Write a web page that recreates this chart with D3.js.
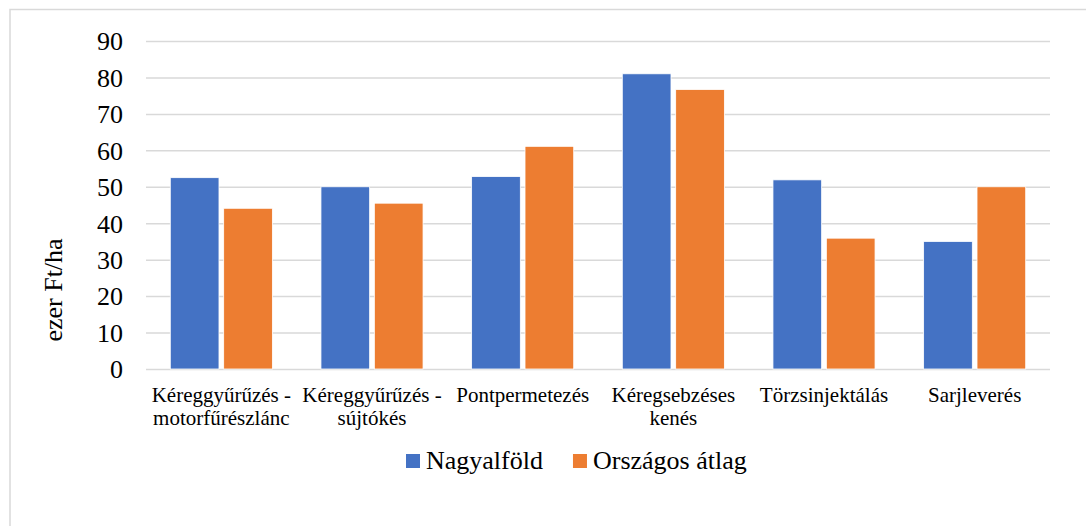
<!DOCTYPE html>
<html>
<head>
<meta charset="utf-8">
<script src="https://cdn.jsdelivr.net/npm/d3@7"></script>
<style>
  body { margin: 0; background: #fff; }
  svg text { font-family: "Liberation Serif", "Times New Roman", serif !important; fill: #000 !important; }
</style>
</head>
<body>
<div id="chart"></div>
<script>
// data
var categories = ["Kéreggyűrűzés - motorfűrészlánc", "Kéreggyűrűzés - sújtókés", "Pontpermetezés",
                  "Kéregsebzéses kenés", "Törzsinjektálás", "Sarjleverés"];
var seriesNames = ["Nagyalföld", "Országos átlag"];
var nagyalfold = [52.5, 50.0, 52.8, 81.0, 51.9, 35.0];
var orszagos = [44.1, 45.5, 61.1, 76.7, 35.9, 50.0];
var yTicks = [0, 10, 20, 30, 40, 50, 60, 70, 80, 90];
var colors = ["#4472C4", "#ED7D31"];

var W = 1086, H = 526;
var plotLeft = 146, plotRight = 1050, plotTop = 41, plotBottom = 369;

var svg = d3.select("#chart").append("svg")
  .attr("width", W)
  .attr("height", H);

// outer chart border
svg.append("rect")
  .attr("x", 10).attr("y", 9.5)
  .attr("width", 1100).attr("height", 600)
  .attr("fill", "none")
  .attr("stroke", "#d9d9d9")
  .attr("stroke-width", 1.5);

var y = d3.scaleLinear().domain([0, 90]).range([plotBottom, plotTop]);
var x0 = d3.scaleBand().domain(categories).range([plotLeft, plotRight]).padding(0);
var x1 = d3.scaleBand().domain(seriesNames).range([0, x0.bandwidth()])
  .paddingInner(0.088).paddingOuter(0.455);

// y axis + gridlines
var yAxis = svg.append("g")
  .attr("transform", "translate(" + plotLeft + ",0)")
  .call(d3.axisLeft(y).tickValues(yTicks).tickSizeInner(-(plotRight - plotLeft)).tickSizeOuter(0).tickPadding(23));
yAxis.select(".domain").remove();
yAxis.selectAll(".tick line").attr("stroke", "#d9d9d9").attr("stroke-width", 1.5);
yAxis.selectAll(".tick text").style("font-size", "26px").attr("dy", "0.34em");

// bars
var rows = categories.map(function(c, i) {
  return { cat: c, vals: [nagyalfold[i], orszagos[i]] };
});

var groups = svg.selectAll(".grp")
  .data(rows)
  .enter().append("g")
  .attr("class", "grp")
  .attr("transform", function(d) { return "translate(" + x0(d.cat) + ",0)"; });

groups.selectAll("rect")
  .data(function(d) { return d.vals.map(function(v, j) { return { s: seriesNames[j], v: v, j: j }; }); })
  .enter().append("rect")
  .attr("x", function(d) { return x1(d.s); })
  .attr("y", function(d) { return y(d.v); })
  .attr("width", x1.bandwidth())
  .attr("height", function(d) { return y(0) - y(d.v); })
  .attr("fill", function(d) { return colors[d.j]; })
  .attr("stroke", "#fff")
  .attr("stroke-width", 0.8);

// x axis labels (wrapped)
var xAxis = svg.append("g")
  .attr("transform", "translate(0," + plotBottom + ")")
  .call(d3.axisBottom(x0).tickSize(0));
xAxis.select(".domain").remove();
xAxis.selectAll(".tick text")
  .style("font-size", "21px")
  .attr("dy", null)
  .each(function(d) {
    var t = d3.select(this);
    var words = d.split(" ");
    t.text(null);
    var lines = [], line = [];
    var probe = t.append("tspan");
    words.forEach(function(w) {
      line.push(w);
      probe.text(line.join(" "));
      if (probe.node().getComputedTextLength() > 147 && line.length > 1) {
        line.pop();
        lines.push(line.join(" "));
        line = [w];
      }
    });
    lines.push(line.join(" "));
    probe.remove();
    lines.forEach(function(l, i) {
      t.append("tspan").attr("x", 0).attr("y", 32.7 + i * 23.5).text(l);
    });
  });

// y title
svg.append("text")
  .attr("transform", "translate(62,290) rotate(-90)")
  .attr("text-anchor", "middle")
  .style("font-size", "26px")
  .text("ezer Ft/ha");

// legend
var lx = 406;
seriesNames.forEach(function(name, i) {
  svg.append("rect")
    .attr("x", lx).attr("y", 454)
    .attr("width", 14).attr("height", 14)
    .attr("fill", colors[i]);
  var t = svg.append("text")
    .attr("x", lx + 20).attr("y", 469)
    .style("font-size", "26px")
    .text(name);
  lx = lx + 20 + t.node().getComputedTextLength() + 30;
});
</script>
</body>
</html>
